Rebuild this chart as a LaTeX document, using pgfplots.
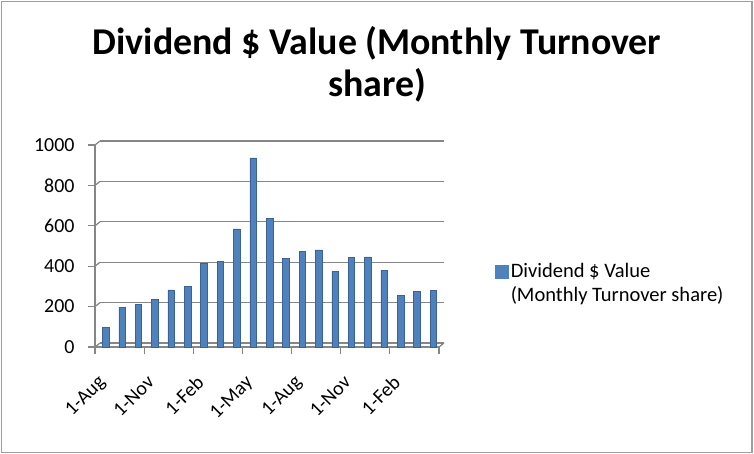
\documentclass[border=0pt]{standalone}
\usepackage{fontspec}
\setmainfont{Carlito}
\usepackage{pgfplots}
\pgfplotsset{compat=1.18}
\definecolor{barblue}{HTML}{4F81BD}
\definecolor{bardark}{HTML}{3A6296}
\definecolor{axgray}{HTML}{868686}
\begin{document}
\begin{tikzpicture}
\path (0bp,0bp) rectangle (754bp,454bp);
\draw[axgray!80, line width=1.5bp] (1.5bp,1.5bp) rectangle (752bp,452.5bp);
\node[align=center, font=\fontsize{38}{43}\selectfont\bfseries, anchor=base] at (377bp,357bp) {Dividend \$ Value (Monthly Turnover\\share)};
\begin{axis}[
  scale only axis, width=344bp, height=202bp,
  at={(95bp,107bp)}, anchor=south west,
  xmin=-0.5, xmax=20.5, ymin=0, ymax=1000,
  ytick={0,200,...,1000},
  xtick={-0.5,2.5,...,20.5},
  xticklabels={1-Aug,1-Nov,1-Feb,1-May,1-Aug,1-Nov,1-Feb,},
  /pgf/number format/assume math mode=true,
  /pgf/number format/1000 sep={},
  tick label style={font=\fontsize{20}{24}\selectfont},
  xticklabel style={rotate=45, anchor=north east, inner sep=0pt, xshift=-12.7bp, yshift=-15.5bp},
  yticklabel style={anchor=east, xshift=-10bp},
  axis x line*=bottom, axis y line*=left,
  axis line style={axgray, line width=1.2bp},
  tick style={axgray, line width=1.2bp},
  tick align=outside, major tick length=7bp,
  ymajorgrids, major grid style={axgray, line width=1.2bp, shift={(5bp,4bp)}},
  ybar, bar width=6.5bp, bar shift=2.5bp,
  legend style={at={(rel axis cs:1.163,0.44)}, anchor=north west, draw=none, inner sep=0pt,
    font=\fontsize{20.6}{24.5}\selectfont},
  legend cell align=left,
  legend image code/.code={\fill[barblue] (0bp,-9bp) rectangle (13bp,4bp);},
  clip=false,
]
\addplot[draw=bardark, line width=0.5bp, fill=barblue] coordinates {
(0,97) (1,198) (2,211) (3,237) (4,283) (5,300) (6,415) (7,423) (8,585) (9,936)
(10,638) (11,437) (12,473) (13,481) (14,376) (15,442) (16,446) (17,379) (18,255) (19,275) (20,280)
};
\addlegendentry{\begin{tabular}[t]{@{}l@{}}Dividend \$ Value\\(Monthly Turnover share)\end{tabular}}
\pgfplotsinvokeforeach{0,200,400,600,800,1000}{
  \draw[axgray, line width=1.2bp] (axis cs:-0.5,#1) -- ++(5bp,4bp);
}
\draw[axgray, line width=1.2bp] (axis cs:20.5,0) -- ++(5bp,4bp);
\end{axis}
\end{tikzpicture}
\end{document}
